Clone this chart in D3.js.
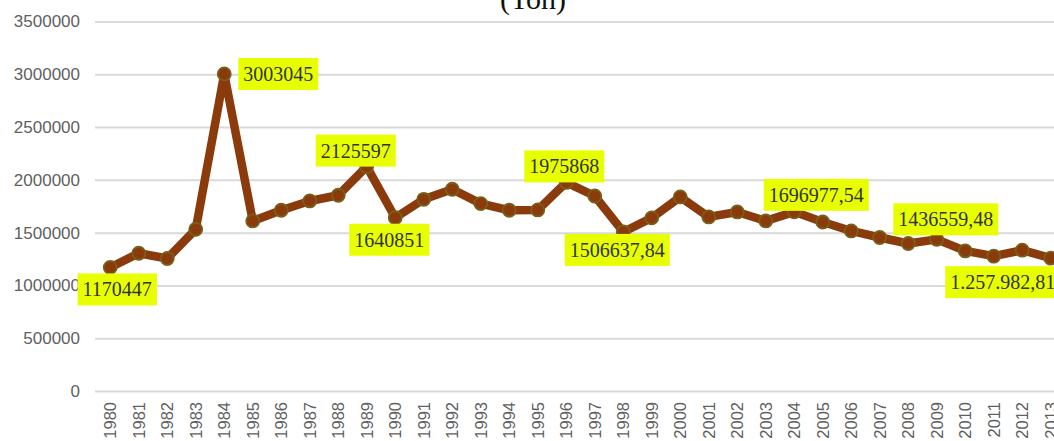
<!DOCTYPE html>
<html>
<head>
<meta charset="utf-8">
<script src="https://cdn.jsdelivr.net/npm/d3@7"></script>
<style>
  body { margin: 0; background: #fff; overflow: hidden; }
  svg { display: block; }
</style>
</head>
<body>
<svg></svg>
<script>
// data
let years = []
for (let y = 1980; y <= 2013; y++) years.push(String(y))

let tonnes = [
  1170447, 1305000, 1255000, 1532000, 3003045, 1611000, 1712000, 1800000, 1854000, 2125597,
  1640851, 1816000, 1911000, 1775000, 1712000, 1715000, 1975868, 1847000, 1506637.84, 1640000,
  1838000, 1649000, 1696000, 1611000, 1696977.54, 1601000, 1516000, 1454000, 1397000, 1436559.48,
  1327000, 1277000, 1334000, 1257982.81
]

let yTicks = [0, 500000, 1000000, 1500000, 2000000, 2500000, 3000000, 3500000]

// which points get a label, and the text shown
let labelYears = ["1980", "1984", "1989", "1990", "1996", "1998", "2004", "2009", "2013"]
let labelTexts = ["1170447", "3003045", "2125597", "1640851", "1975868", "1506637,84", "1696977,54", "1436559,48", "1.257.982,81"]
// label box centre offset from its point
let labelOffsets = [[7, 22], [54, 0], [-11, -16], [-6, 22], [-2, -16], [-6, 18], [22, -17], [9, -20], [-48, 24]]

let width = 1054
let height = 441

let svg = d3.select("svg")
svg.attr('width', width)
svg.attr('height', height)

let xScale = d3.scaleBand()
  .domain(years)
  .range([96, 1065])
  .padding(0)

let yScale = d3.scaleLinear()
  .domain([0, 3500000])
  .range([391, 21.5])

let px = (yr) => xScale(yr) + xScale.bandwidth() / 2

// title, cut off at the top
svg.append('text')
  .attr('x', 533)
  .attr('y', 9)
  .attr('text-anchor', 'middle')
  .style('font-family', '"Liberation Serif", serif')
  .style('font-size', '30px')
  .style('fill', '#111')
  .text('(Ton)')

// y axis with gridlines
let yAxis = d3.axisLeft(yScale)
  .tickValues(yTicks)
  .tickFormat(d3.format('d'))
  .tickSizeInner(-975)
  .tickSizeOuter(0)
  .tickPadding(15)

let gy = svg.append('g')
  .attr('transform', 'translate(95, 0)')
  .call(yAxis)
gy.select('.domain').remove()
gy.selectAll('line')
  .attr('stroke', '#d9d9d9')
  .attr('stroke-width', 2)
gy.selectAll('text')
  .style('font-family', '"Liberation Sans", sans-serif')
  .style('font-size', '17px')
  .style('fill', '#5f5f5f')

// x axis, vertical year labels
let xAxis = d3.axisBottom(xScale).tickSize(0)
let gx = svg.append('g')
  .attr('transform', 'translate(0, 391)')
  .call(xAxis)
gx.select('.domain').remove()
gx.selectAll('text')
  .attr('transform', 'rotate(-90)')
  .attr('x', -11)
  .attr('y', 0)
  .attr('dy', '0.35em')
  .attr('text-anchor', 'end')
  .style('font-family', '"Liberation Sans", sans-serif')
  .style('font-size', '16.5px')
  .style('fill', '#5f5f5f')

// line
let line = d3.line()
  .x((d, i) => px(years[i]))
  .y((d) => yScale(d))

svg.append('path')
  .datum(tonnes)
  .attr('d', line)
  .attr('fill', 'none')
  .attr('stroke', '#8b3a0c')
  .attr('stroke-width', 8.5)
  .attr('stroke-linejoin', 'round')

svg.selectAll('circle.pt')
  .data(tonnes)
  .enter()
  .append('circle')
  .attr('class', 'pt')
  .attr('cx', (d, i) => px(years[i]))
  .attr('cy', (d) => yScale(d))
  .attr('r', 6.5)
  .attr('fill', '#8b3a0c')
  .attr('stroke', '#76601a')
  .attr('stroke-width', 1.8)

// data labels with yellow boxes
labelYears.forEach((yr, k) => {
  let i = years.indexOf(yr)
  let cx = px(yr) + labelOffsets[k][0]
  let cy = yScale(tonnes[i]) + labelOffsets[k][1]
  let g = svg.append('g')
  let rect = g.append('rect').attr('fill', '#e8ff00')
  let t = g.append('text')
    .attr('x', cx)
    .attr('y', cy)
    .attr('dy', '0.35em')
    .attr('text-anchor', 'middle')
    .style('font-family', '"Liberation Serif", serif')
    .style('font-size', '20px')
    .style('fill', '#333')
    .text(labelTexts[k])
  let w = t.node().getComputedTextLength() + 10
  rect.attr('x', cx - w / 2)
    .attr('y', cy - 16)
    .attr('width', w)
    .attr('height', 32)
})
</script>
</body>
</html>
